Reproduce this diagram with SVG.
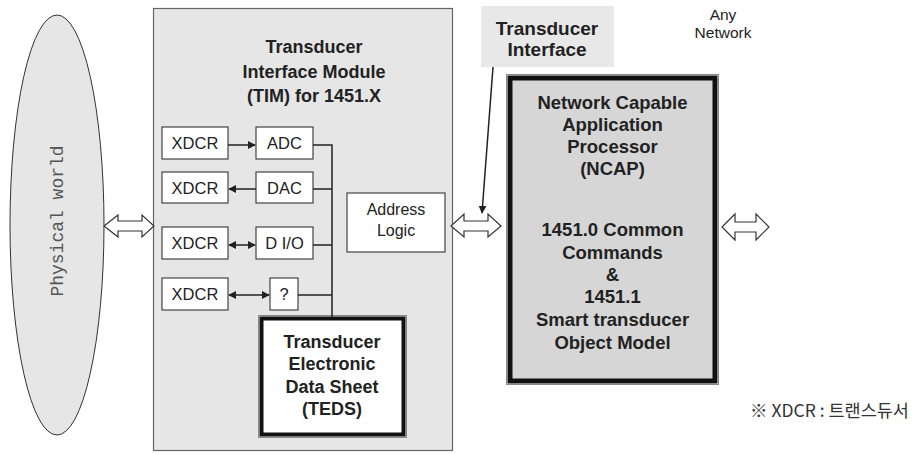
<svg xmlns="http://www.w3.org/2000/svg" width="917" height="454" viewBox="0 0 917 454">
<defs>
<marker id="ah" viewBox="0 0 10 10" refX="9" refY="5" markerWidth="8" markerHeight="8" markerUnits="userSpaceOnUse" orient="auto-start-reverse"><path d="M0,0 L10,5 L0,10 z" fill="#222"/></marker>
<style>
.t{font-family:"Liberation Sans",Arial,sans-serif;fill:#222;text-anchor:middle}
.b{font-weight:bold;font-size:18px}
.r{font-size:16.5px}
.box{fill:#fff;stroke:#444;stroke-width:1.2}
.ln{stroke:#222;stroke-width:1.5;fill:none}
.ha{fill:#fff;stroke:#333;stroke-width:1.2}
</style>
</defs>
<rect width="917" height="454" fill="#fff"/>
<g id="physical">
<ellipse cx="57" cy="225" rx="47" ry="210" fill="#e6e6e6" stroke="#333" stroke-width="1"/>
<text x="0" y="0" transform="translate(63,221) rotate(-90)" font-family="'Liberation Mono','Courier New',monospace" font-size="18" fill="#555" text-anchor="middle">Physical world</text>
</g>
<g id="tim">
<rect x="153.5" y="8.5" width="299" height="442" fill="#e6e6e6" stroke="#666" stroke-width="1.2"/>
<text class="t b" x="314" y="53">Transducer</text>
<text class="t b" x="314" y="78">Interface Module</text>
<text class="t b" x="314" y="102">(TIM) for 1451.X</text>
</g>
<g id="xdcr1"><rect class="box" x="162" y="127" width="66" height="32"/><text class="t r" x="195" y="149">XDCR</text></g>
<g id="adc"><rect class="box" x="256" y="127" width="57" height="32"/><text class="t r" x="284.5" y="149">ADC</text></g>
<g id="xdcr2"><rect class="box" x="162" y="172" width="66" height="31"/><text class="t r" x="195" y="194">XDCR</text></g>
<g id="dac"><rect class="box" x="256" y="172" width="57" height="31"/><text class="t r" x="284.5" y="194">DAC</text></g>
<g id="xdcr3"><rect class="box" x="162" y="227" width="66" height="32"/><text class="t r" x="195" y="249">XDCR</text></g>
<g id="dio"><rect class="box" x="256" y="227" width="57" height="32"/><text class="t r" x="284.5" y="249">D I/O</text></g>
<g id="xdcr4"><rect class="box" x="162" y="278" width="66" height="32"/><text class="t r" x="195" y="300">XDCR</text></g>
<g id="q"><rect class="box" x="270" y="278" width="28" height="32"/><text class="t r" x="284" y="300">?</text></g>
<g id="address"><rect class="box" x="347" y="193" width="98" height="59"/><text class="t" font-size="16" x="396" y="215">Address</text><text class="t" font-size="16" x="396" y="236">Logic</text></g>
<g id="teds">
<rect x="258.5" y="315.5" width="148" height="122" fill="none" stroke="#888" stroke-width="1"/>
<rect x="261.5" y="318.5" width="142" height="116" fill="#fff" stroke="#111" stroke-width="4"/>
<text class="t b" x="332" y="348">Transducer</text>
<text class="t b" x="332" y="370">Electronic</text>
<text class="t b" x="332" y="393">Data Sheet</text>
<text class="t b" x="332" y="415">(TEDS)</text>
</g>
<g id="ti">
<rect x="481" y="6" width="133" height="61" fill="#e8e8e8"/>
<text class="t b" font-size="19" style="font-size:19px" x="547" y="35">Transducer</text>
<text class="t b" style="font-size:19px" x="547" y="56">Interface</text>
</g>
<g id="anynet">
<text class="t" font-size="15.5" x="723" y="20">Any</text>
<text class="t" font-size="15.5" x="723" y="38">Network</text>
</g>
<g id="ncap">
<rect x="506.5" y="74.5" width="212" height="310" fill="none" stroke="#888" stroke-width="1"/>
<rect x="510" y="78" width="205" height="303" fill="#d6d6d6" stroke="#111" stroke-width="5"/>
<g style="font-size:18.5px">
<text class="t b" style="font-size:18.5px" x="612.5" y="109">Network Capable</text>
<text class="t b" style="font-size:18.5px" x="612.5" y="131">Application</text>
<text class="t b" style="font-size:18.5px" x="612.5" y="153">Processor</text>
<text class="t b" style="font-size:18.5px" x="612.5" y="175">(NCAP)</text>
<text class="t b" style="font-size:18.5px" x="612.5" y="236">1451.0 Common</text>
<text class="t b" style="font-size:18.5px" x="612.5" y="259">Commands</text>
<text class="t b" style="font-size:18.5px" x="612.5" y="281">&amp;</text>
<text class="t b" style="font-size:18.5px" x="612.5" y="303">1451.1</text>
<text class="t b" style="font-size:18.5px" x="612.5" y="326">Smart transducer</text>
<text class="t b" style="font-size:18.5px" x="612.5" y="349">Object Model</text>
</g>
</g>
<g id="note">
<text x="750" y="417" font-family="'Noto Sans CJK KR','Noto Sans',sans-serif" font-size="17.5" fill="#333">※ XDCR : 트랜스듀서</text>
</g>
<g id="connectors">
<line class="ln" x1="228" y1="145" x2="255" y2="145" marker-end="url(#ah)"/>
<line class="ln" x1="256" y1="189" x2="229" y2="189" marker-end="url(#ah)"/>
<line class="ln" x1="229" y1="245" x2="255" y2="245" marker-start="url(#ah)" marker-end="url(#ah)"/>
<line class="ln" x1="229" y1="295" x2="269" y2="295" marker-start="url(#ah)" marker-end="url(#ah)"/>
<path class="ln" d="M313,145 H332 V318 M313,189 H332 M313,245 H332 M298,295 H332"/>
<line class="ln" x1="493" y1="67" x2="482" y2="213" stroke-width="1" marker-end="url(#ah)"/>
<path class="ha" d="M104,226 L118,215 V221 H142 V215 L154,226 L142,237 V231 H118 V237 Z"/>
<path class="ha" d="M451,226 L464,214 V221 H488 V214 L501,226 L488,237 V231 H464 V237 Z"/>
<path class="ha" d="M722,227 L735,214 V222 H756 V214 L769,227 L756,240 V232 H735 V240 Z"/>
</g>
</svg>
